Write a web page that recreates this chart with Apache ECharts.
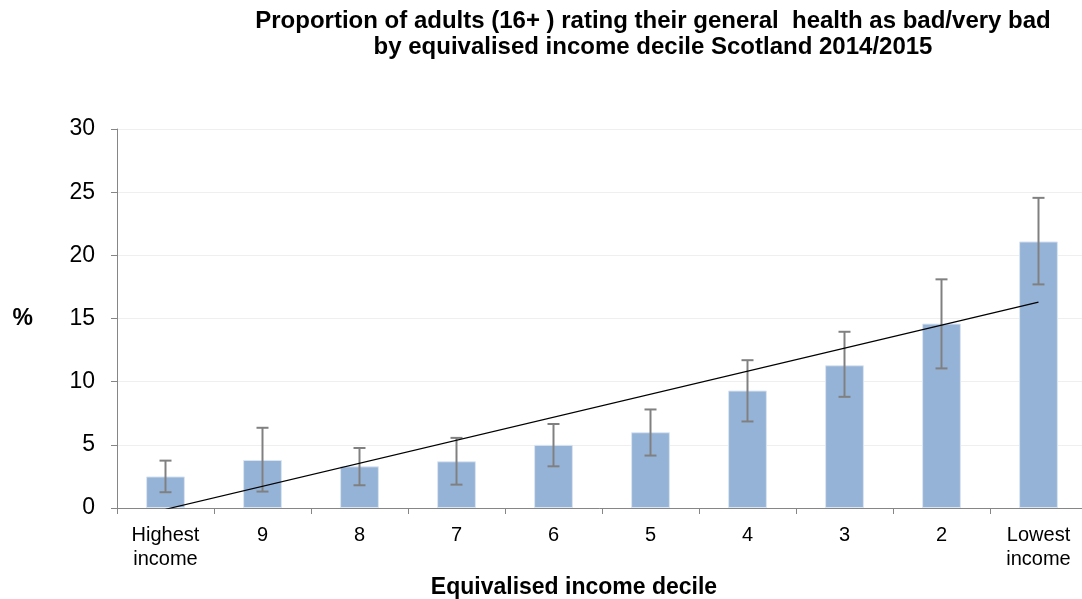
<!DOCTYPE html>
<html>
<head>
<meta charset="utf-8">
<script src="https://cdn.jsdelivr.net/npm/echarts@6/dist/echarts.min.js"></script>
<style>
  html, body { margin: 0; padding: 0; background: #fff; }
  #chart { width: 1082px; height: 599px; }
</style>
</head>
<body>
<div id="chart"></div>
<script>
// 收入十分位
const deciles = ['Highest\nincome', '9', '8', '7', '6', '5', '4', '3', '2', 'Lowest\nincome']
// 比例 (%)
const values = [2.5, 3.8, 3.3, 3.7, 5.0, 6.0, 9.3, 11.3, 14.6, 21.1]
// 置信区间
const lower = [1.25, 1.3, 1.8, 1.85, 3.3, 4.15, 6.85, 8.8, 11.05, 17.7]
const upper = [3.75, 6.35, 4.75, 5.55, 6.65, 7.8, 11.7, 13.95, 18.1, 24.55]
// 线性趋势线 (首尾)
const trendStart = -0.1
const trendEnd = 16.3
const yTicks = { min: 0, max: 30, interval: 5 }

const chart = echarts.init(document.getElementById('chart'))

const errorData = deciles.map((d, i) => [i, lower[i], upper[i]])

const option = {
  animation: false,
  textStyle: { fontFamily: 'Liberation Sans, Arial, sans-serif', color: '#000' },
  title: {
    text: 'Proportion of adults (16+ ) rating their general  health as bad/very bad\nby equivalised income decile Scotland 2014/2015',
    left: 648,
    textAlign: 'center',
    top: 3,
    textStyle: { fontSize: 24, fontWeight: 'bold', color: '#000', lineHeight: 26 }
  },
  grid: { left: 117, width: 970, top: 129, bottom: 91, outerBoundsMode: 'none', containLabel: false },
  xAxis: {
    type: 'category',
    data: deciles,
    axisLine: { lineStyle: { color: '#868686', width: 1 } },
    axisTick: { show: true, length: 6, lineStyle: { color: '#868686' } },
    axisLabel: { fontSize: 20, color: '#000', margin: 15, lineHeight: 24, interval: 0 },
    name: 'Equivalised income decile',
    nameLocation: 'middle',
    nameGap: 58,
    nameTextStyle: { fontSize: 23, fontWeight: 'bold', color: '#000', padding: [0, 56, 0, 0] }
  },
  yAxis: {
    type: 'value',
    min: yTicks.min,
    max: yTicks.max,
    interval: yTicks.interval,
    axisLine: { show: true, lineStyle: { color: '#868686' } },
    axisTick: { show: true, length: 6, lineStyle: { color: '#868686' } },
    axisLabel: { fontSize: 23, color: '#000', margin: 22 },
    splitLine: { lineStyle: { color: '#efefef', width: 1 } },
    name: '%',
    nameLocation: 'middle',
    nameRotate: 0,
    nameGap: 84,
    nameTextStyle: { fontSize: 23, fontWeight: 'bold', color: '#000', padding: [0, 0, 10, 0] }
  },
  series: [
    {
      name: 'Proportion',
      type: 'bar',
      data: values,
      barWidth: '40%',
      itemStyle: { color: '#95b3d7', borderColor: '#dce6f2', borderWidth: 1 }
    },
    {
      name: 'CI',
      type: 'custom',
      data: errorData,
      z: 5,
      renderItem: (params, api) => {
        const x = api.value(0)
        const lo = api.coord([x, api.value(1)])
        const hi = api.coord([x, api.value(2)])
        const cap = 6
        const style = { stroke: '#808080', lineWidth: 2 }
        return {
          type: 'group',
          children: [
            { type: 'line', shape: { x1: lo[0], y1: lo[1], x2: hi[0], y2: hi[1] }, style },
            { type: 'line', shape: { x1: lo[0] - cap, y1: lo[1], x2: lo[0] + cap, y2: lo[1] }, style },
            { type: 'line', shape: { x1: hi[0] - cap, y1: hi[1], x2: hi[0] + cap, y2: hi[1] }, style }
          ]
        }
      }
    },
    {
      name: 'Trend',
      type: 'line',
      data: [[0, trendStart], [deciles.length - 1, trendEnd]],
      symbol: 'none',
      clip: true,
      z: 6,
      lineStyle: { color: '#000', width: 1.3 }
    }
  ]
}

chart.setOption(option)
</script>
</body>
</html>
